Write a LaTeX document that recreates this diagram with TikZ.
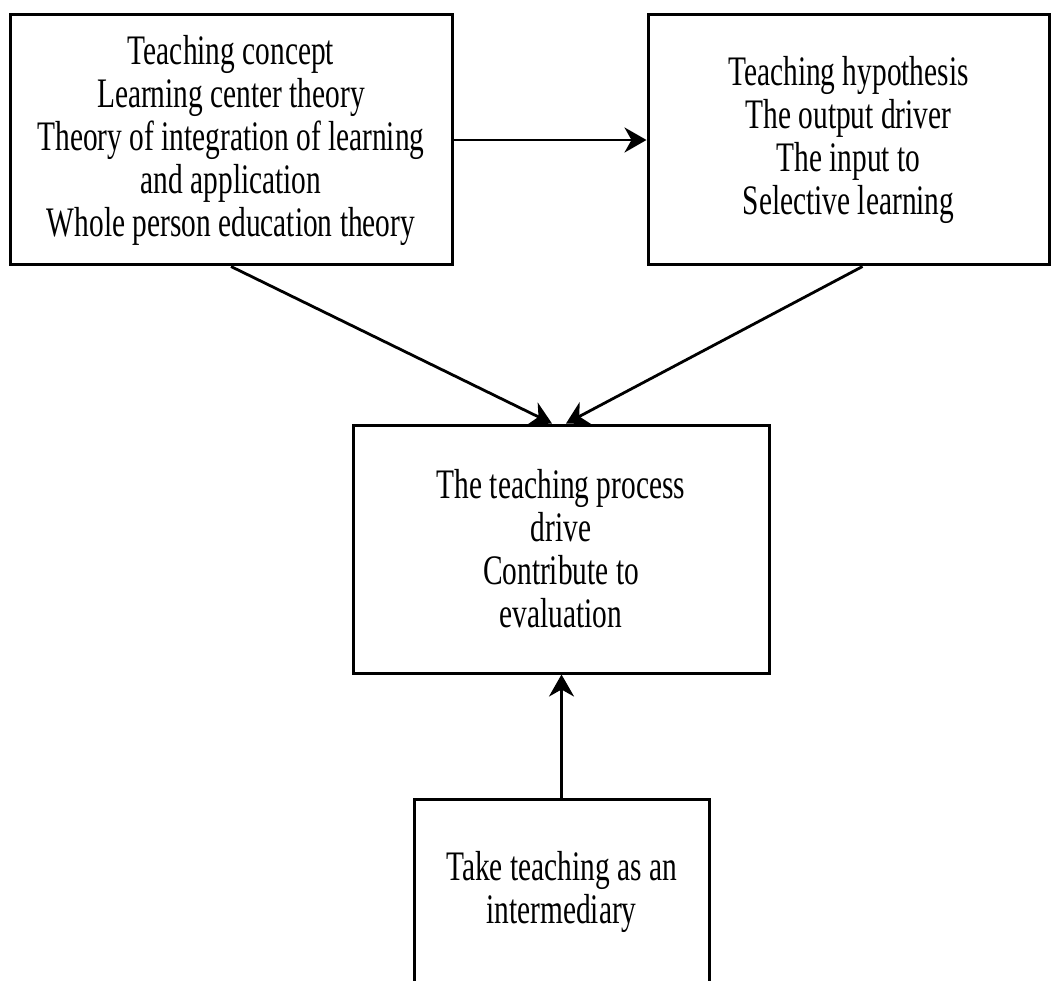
\documentclass[tikz,border=0pt]{standalone}
\usepackage{fontspec}
\setmainfont{Liberation Serif}[FakeStretch=0.70]
\usetikzlibrary{arrows.meta,calc}
\tikzset{
  boxnode/.style={draw=black, line width=3pt, rectangle, inner sep=0pt, align=center,
    font=\fontsize{42}{43}\selectfont},
  arr/.style={draw=black, line width=2.8pt, -{Stealth[length=22pt,width=25pt,inset=7pt]}}
}
\begin{document}
\begin{tikzpicture}[x=1pt,y=-1pt]
\useasboundingbox (0,0) rectangle (1051,981);
\clip (0,0) rectangle (1051,981);
\fill[white] (0,0) rectangle (1051,981);
\node[boxnode, minimum width=442pt, minimum height=250pt] (A) at (231,140)
  {Teaching concept\\Learning center theory\\Theory of integration of learning\\and application\\Whole person education theory};
\node[boxnode, minimum width=401pt, minimum height=250pt] (B) at (848.5,140)
  {Teaching hypothesis\\The output driver\\The input to\\Selective learning};
\node[boxnode, minimum width=416pt, minimum height=248pt] (C) at (561,549)
  {The teaching process\\drive\\Contribute to\\evaluation};
\node[boxnode, minimum width=295pt, minimum height=186pt] (D) at (561.5,892)
  {Take teaching as an\\intermediary};
\draw[arr] (A.east) -- (B.west);
\draw[arr] (A.south) -- ($(C.north)+(-9,0)$);
\draw[arr] ($(B.south)+(14,0)$) -- ($(C.north)+(5,0)$);
\draw[arr] (D.north) -- (D.north |- C.south);
\end{tikzpicture}
\end{document}
